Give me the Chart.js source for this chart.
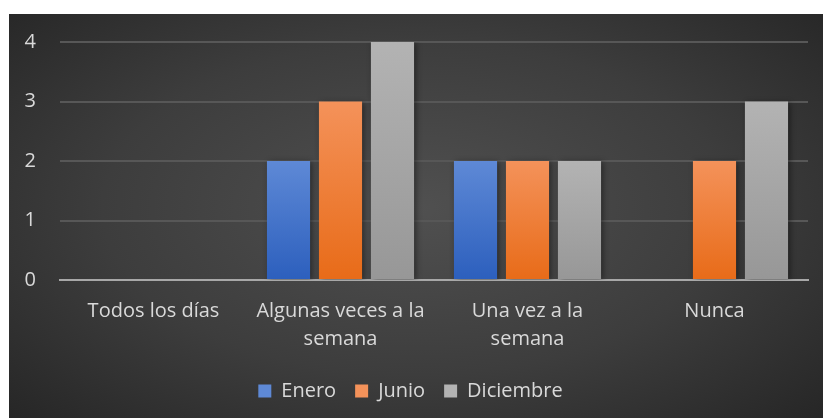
<!DOCTYPE html>
<html>
<head>
<meta charset="utf-8">
<script src="https://cdn.jsdelivr.net/npm/chart.js@4"></script>
<style>
  body { margin: 0; background: #fff; }
  #wrap {
    position: absolute; left: 9px; top: 14px; width: 814px; height: 404px;
    background: radial-gradient(ellipse 70% 75% at 50% 48%, #505050 0%, #3d3d3d 55%, #262626 100%);
  }
</style>
</head>
<body>
<div id="wrap"><canvas id="chart" width="814" height="404"></canvas></div>
<script>
var categories = [['Todos los días'], ['Algunas veces a la', 'semana'], ['Una vez a la', 'semana'], ['Nunca']];
var seriesNames = ['Enero', 'Junio', 'Diciembre'];
var enero = [0, 2, 2, 0];
var junio = [0, 3, 2, 2];
var diciembre = [0, 4, 2, 3];
var yTicks = [0, 1, 2, 3, 4];

var topColors = ['#5e89d6', '#f4925a', '#b3b3b3'];
var bottomColors = ['#2c5fbd', '#e86b18', '#979797'];

function barGradient(i) {
  return function (context) {
    var chart = context.chart;
    if (!chart.chartArea || context.parsed == null) return topColors[i];
    var y = chart.scales.y;
    var top = y.getPixelForValue(context.parsed.y);
    var base = y.getPixelForValue(0);
    if (!isFinite(top) || top === base) return topColors[i];
    var g = chart.ctx.createLinearGradient(0, top, 0, base);
    g.addColorStop(0, topColors[i]);
    g.addColorStop(1, bottomColors[i]);
    return g;
  };
}

var shadow = {
  id: 'shadow',
  beforeDatasetsDraw: function (chart) {
    var ctx = chart.ctx;
    ctx.save();
    ctx.shadowColor = 'rgba(0,0,0,0.45)';
    ctx.shadowBlur = 6;
    ctx.shadowOffsetX = 2;
    ctx.shadowOffsetY = 1;
  },
  afterDatasetsDraw: function (chart) {
    chart.ctx.restore();
  }
};

var datasets = [enero, junio, diciembre].map(function (vals, i) {
  return {
    label: seriesNames[i],
    data: vals,
    backgroundColor: barGradient(i),
    borderWidth: 0,
    barPercentage: 0.83,
    categoryPercentage: 0.834
  };
});

Chart.defaults.font.family = "'Open Sans', sans-serif";
Chart.defaults.color = '#d9d9d9';

new Chart(document.getElementById('chart'), {
  type: 'bar',
  data: { labels: categories, datasets: datasets },
  plugins: [shadow],
  options: {
    responsive: false,
    animation: false,
    layout: { padding: { top: 28, right: 15, left: 4, bottom: 7 } },
    plugins: {
      legend: {
        position: 'bottom',
        labels: {
          boxWidth: 13, boxHeight: 13, padding: 19,
          font: { size: 20 }, color: '#d9d9d9',
          generateLabels: function (chart) {
            return seriesNames.map(function (n, i) {
              return { text: n, fillStyle: topColors[i], strokeStyle: topColors[i], lineWidth: 0, fontColor: '#d9d9d9', datasetIndex: i };
            });
          }
        }
      },
      tooltip: { enabled: false }
    },
    scales: {
      x: {
        grid: { display: false },
        border: { display: true, color: '#a8a8a8', width: 2 },
        ticks: { font: { size: 20, lineHeight: 1.4 }, color: '#d9d9d9', padding: 9, maxRotation: 0 }
      },
      y: {
        min: 0, max: 4,
        afterBuildTicks: function (axis) { axis.ticks = yTicks.map(function (v) { return { value: v }; }); },
        afterFit: function (axis) { axis.width = 47; axis.paddingTop = 0; axis.paddingBottom = 0; },
        grid: {
          color: function (c) { return c.tick && c.tick.value === 0 ? 'rgba(0,0,0,0)' : '#575757'; },
          lineWidth: 2,
          drawTicks: false
        },
        border: { display: false },
        ticks: { font: { size: 20 }, color: '#d9d9d9', padding: 24 }
      }
    }
  }
});
</script>
</body>
</html>
